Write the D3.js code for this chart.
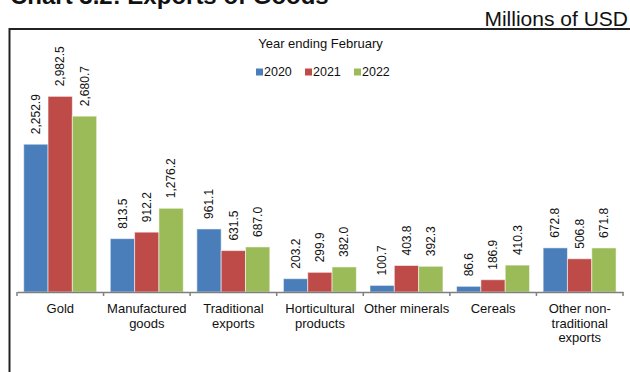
<!DOCTYPE html>
<html>
<head>
<meta charset="utf-8">
<script src="https://cdn.jsdelivr.net/npm/d3@7/dist/d3.min.js"></script>
<style>
  html, body { margin: 0; padding: 0; background: #fff; }
  svg { display: block; font-family: "Liberation Sans", Arial, sans-serif; }
</style>
</head>
<body>
<svg id="chart" width="630" height="372"></svg>
<script>
// Exports of goods by category, year ending February (millions of USD)
const categories = ["Gold", "Manufactured goods", "Traditional exports", "Horticultural products",
                    "Other minerals", "Cereals", "Other non-traditional exports"];
const tickLabels = [["Gold"], ["Manufactured", "goods"], ["Traditional", "exports"],
                    ["Horticultural", "products"], ["Other minerals"], ["Cereals"],
                    ["Other non-", "traditional", "exports"]];
const seriesNames = ["2020", "2021", "2022"];
const values2020 = [2252.9, 813.5, 961.1, 203.2, 100.7, 86.6, 672.8];
const values2021 = [2982.5, 912.2, 631.5, 299.9, 403.8, 186.9, 506.8];
const values2022 = [2680.7, 1276.2, 687.0, 382.0, 392.3, 410.3, 671.8];
const seriesColors = ["#4A7EBB", "#BE4B48", "#9BBB59"];

const seriesValues = [values2020, values2021, values2022];
const svg = d3.select("#chart");

// Title (partly above the top edge) and unit note
svg.append("text").attr("x", 10).attr("y", 4)
  .attr("font-size", 24).attr("font-weight", "bold").attr("fill", "#111")
  .text("Chart 3.2: Exports of Goods");
svg.append("text").attr("x", 628).attr("y", 26).attr("text-anchor", "end")
  .attr("font-size", 21).attr("fill", "#111")
  .text("Millions of USD");

// Chart frame (top and left edges)
svg.append("path")
  .attr("d", "M9.5,372 L9.5,29 L630,29")
  .attr("fill", "none").attr("stroke", "#222").attr("stroke-width", 2);

// Scales
const x = d3.scaleBand().domain(categories).range([17, 623]).paddingInner(0).paddingOuter(0);
const xs = d3.scaleBand().domain(seriesNames).range([6.7, x.bandwidth() - 6.9]);
const y = d3.scaleLinear().domain([0, 3500]).range([292, 62.4]);

// Bars
const groups = svg.append("g").selectAll("g")
  .data(categories).join("g")
  .attr("transform", d => `translate(${x(d)},0)`);

groups.selectAll("rect")
  .data((c, i) => seriesNames.map((s, k) => ({ s, k, v: seriesValues[k][i] })))
  .join("rect")
  .attr("x", d => xs(d.s))
  .attr("width", xs.bandwidth())
  .attr("y", d => y(d.v))
  .attr("height", d => y(0) - y(d.v))
  .attr("fill", d => seriesColors[d.k])
  .attr("stroke", "rgba(255,255,255,0.55)")
  .attr("stroke-width", 1);

// Value labels, rotated above each bar
const fmt = d3.format(",.1f");
groups.selectAll("text.val")
  .data((c, i) => seriesNames.map((s, k) => ({ s, k, v: seriesValues[k][i] })))
  .join("text")
  .attr("class", "val")
  .attr("transform", d => `translate(${xs(d.s) + xs.bandwidth() / 2},${y(d.v) - 10}) rotate(-90)`)
  .attr("dy", "0.35em")
  .attr("font-size", 12).attr("fill", "#111")
  .text(d => fmt(d.v));

// Category axis: baseline with ticks at the category boundaries
const axis = svg.append("g").attr("transform", `translate(0,${y(0)})`)
  .call(d3.axisBottom(x).tickSize(0).tickFormat(""));
axis.select(".domain").attr("stroke", "#7f7f7f").attr("stroke-width", 1.5);

const boundaries = categories.map(c => x(c)).concat([x(categories[categories.length - 1]) + x.bandwidth()]);
axis.selectAll("line.bound")
  .data(boundaries).join("line")
  .attr("class", "bound")
  .attr("x1", d => d).attr("x2", d => d)
  .attr("y1", 0).attr("y2", 4)
  .attr("stroke", "#7f7f7f").attr("stroke-width", 1.5);

// Category labels
const labels = svg.append("g").selectAll("text")
  .data(categories).join("text")
  .attr("x", d => x(d) + x.bandwidth() / 2)
  .attr("y", 313)
  .attr("text-anchor", "middle")
  .attr("font-size", 13).attr("fill", "#111");
labels.each(function (d, i) {
  d3.select(this).selectAll("tspan")
    .data(tickLabels[i]).join("tspan")
    .attr("x", x(d) + x.bandwidth() / 2)
    .attr("dy", (t, j) => j === 0 ? 0 : 14.7)
    .text(t => t);
});

// Legend
svg.append("text").attr("x", 320.5).attr("y", 48).attr("text-anchor", "middle")
  .attr("font-size", 13).attr("fill", "#111")
  .text("Year ending February");

const legend = svg.append("g").selectAll("g")
  .data(seriesNames).join("g")
  .attr("transform", (d, i) => `translate(${256 + i * 49},0)`);
legend.append("rect")
  .attr("x", 0).attr("y", 68.5).attr("width", 7).attr("height", 7)
  .attr("fill", (d, i) => seriesColors[i]);
legend.append("text")
  .attr("x", 8).attr("y", 76)
  .attr("font-size", 12.5).attr("fill", "#111")
  .text(d => d);
</script>
</body>
</html>
